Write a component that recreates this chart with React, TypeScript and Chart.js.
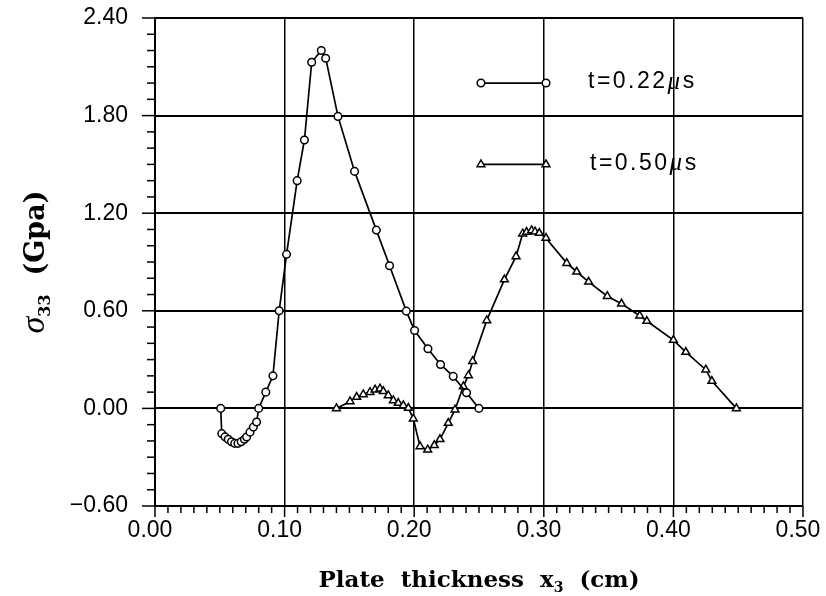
import React, { useEffect, useRef } from "react";
import { Chart, registerables } from "chart.js";

Chart.register(...registerables);

// Stress profile through the plate thickness at t = 0.22 µs (circles)
const thicknessA = [
  0.0507, 0.0515, 0.054, 0.0565, 0.059, 0.0615, 0.064, 0.0665, 0.069, 0.0707,
  0.0733, 0.0759, 0.0784, 0.08, 0.0855, 0.091, 0.0958, 0.1015, 0.1097, 0.1153,
  0.1209, 0.1283, 0.1317, 0.1412, 0.154, 0.1708, 0.181, 0.1939, 0.2003, 0.2106,
  0.2203, 0.2301, 0.2404, 0.2499,
];
const stressA = [
  0.0, -0.155, -0.175, -0.19, -0.205, -0.215, -0.215, -0.205, -0.19, -0.176,
  -0.146, -0.115, -0.084, 0.0, 0.1, 0.2, 0.6, 0.947, 1.4, 1.65,
  2.128, 2.2, 2.153, 1.795, 1.457, 1.096, 0.877, 0.598, 0.479, 0.367,
  0.27, 0.197, 0.096, 0.0,
];

// Stress profile through the plate thickness at t = 0.50 µs (triangles)
const thicknessB = [
  0.14, 0.1505, 0.1556, 0.1607, 0.1659, 0.1698, 0.1736, 0.1762, 0.18, 0.1839,
  0.1877, 0.1916, 0.1955, 0.1993, 0.2045, 0.2104, 0.2155, 0.2199, 0.2263, 0.2315,
  0.2379, 0.2418, 0.2451, 0.256, 0.2696, 0.2786, 0.2837, 0.2867, 0.2906, 0.2932,
  0.2965, 0.3017, 0.3177, 0.3254, 0.3346, 0.349, 0.36, 0.374, 0.3795, 0.4,
  0.4096, 0.425, 0.4297, 0.4486,
];
const stressB = [
  0.0, 0.043, 0.07, 0.086, 0.1, 0.115, 0.121, 0.105, 0.08, 0.049,
  0.033, 0.018, 0.002, -0.063, -0.234, -0.254, -0.227, -0.19, -0.09, -0.008,
  0.135, 0.203, 0.29, 0.541, 0.792, 0.934, 1.074, 1.084, 1.094, 1.086,
  1.078, 1.047, 0.893, 0.84, 0.778, 0.69, 0.643, 0.57, 0.537, 0.42,
  0.346, 0.238, 0.168, 0.0,
];

const xTickValues = [0, 0.1, 0.2, 0.3, 0.4, 0.5];
const yTickValues = [-0.6, 0, 0.6, 1.2, 1.8, 2.4];

const seriesTimes = ["t=0.22", "t=0.50"];
const timeUnit = "\u03bcs";

const formatTick = (v: number) =>
  v < 0 ? "\u2212" + Math.abs(v).toFixed(2) : v.toFixed(2);

const SANS = "'Liberation Sans', Arial, sans-serif";
const SERIF = "'DejaVu Serif', serif";

function drawMarker(ctx: CanvasRenderingContext2D, style: string, x: number, y: number) {
  ctx.beginPath();
  if (style === "circle") {
    ctx.arc(x, y, 3.8, 0, Math.PI * 2);
  } else {
    const r = 4.5;
    ctx.moveTo(x, y - r);
    ctx.lineTo(x + r * 0.866, y + r * 0.5);
    ctx.lineTo(x - r * 0.866, y + r * 0.5);
    ctx.closePath();
  }
  ctx.fillStyle = "#fff";
  ctx.fill();
  ctx.lineWidth = 1.5;
  ctx.strokeStyle = "#000";
  ctx.stroke();
}

// Draws minor/major tick marks, the in-plot key and the axis titles.
const decorations = {
  id: "decorations",
  afterDraw(chart: any) {
    const ctx: CanvasRenderingContext2D = chart.ctx;
    const xs = chart.scales.x;
    const ys = chart.scales.y;
    const area = chart.chartArea;
    ctx.save();
    ctx.strokeStyle = "#000";
    ctx.lineWidth = 1.5;

    // x-axis ticks every 0.01, long ones every 0.1
    for (let i = 0; i <= 50; i++) {
      const px = xs.getPixelForValue(i / 100);
      const len = i % 10 === 0 ? 11 : 7;
      ctx.beginPath();
      ctx.moveTo(px, area.bottom);
      ctx.lineTo(px, area.bottom + len);
      ctx.stroke();
    }
    // y-axis ticks every 0.1, long ones every 0.6
    for (let i = -6; i <= 24; i++) {
      const py = ys.getPixelForValue(i / 10);
      const len = i % 6 === 0 ? 13 : 8;
      ctx.beginPath();
      ctx.moveTo(area.left, py);
      ctx.lineTo(area.left - len, py);
      ctx.stroke();
    }

    // key inside the plot
    const styles = ["circle", "triangle"];
    const keyY = [2.0, 1.5];
    seriesTimes.forEach((label, k) => {
      const x0 = xs.getPixelForValue(0.2515);
      const x1 = xs.getPixelForValue(0.3017);
      const y = ys.getPixelForValue(keyY[k]);
      ctx.beginPath();
      ctx.lineWidth = 1.7;
      ctx.strokeStyle = "#000";
      ctx.moveTo(x0, y);
      ctx.lineTo(x1, y);
      ctx.stroke();
      drawMarker(ctx, styles[k], x0, y);
      drawMarker(ctx, styles[k], x1, y);

      ctx.fillStyle = "#000";
      ctx.textBaseline = "middle";
      ctx.textAlign = "left";
      (ctx as any).letterSpacing = "2.5px";
      ctx.font = `23px ${SANS}`;
      let tx = x1 + 42 + k * 2;
      ctx.fillText(label, tx, y - 1);
      tx += ctx.measureText(label).width;
      ctx.font = `italic 25px 'Liberation Serif', serif`;
      ctx.fillText(timeUnit[0], tx, y - 1);
      tx += ctx.measureText(timeUnit[0]).width;
      ctx.font = `23px ${SANS}`;
      ctx.fillText(timeUnit.slice(1), tx, y - 1);
      (ctx as any).letterSpacing = "0px";
    });

    const drawParts = (parts: any[], cx: number, cy: number) => {
      let total = 0;
      parts.forEach((p) => {
        ctx.font = p.f;
        total += ctx.measureText(p.t).width;
      });
      let px = cx - total / 2;
      ctx.textAlign = "left";
      ctx.textBaseline = "alphabetic";
      ctx.fillStyle = "#000";
      parts.forEach((p) => {
        ctx.font = p.f;
        ctx.fillText(p.t, px, cy + p.dy);
        px += ctx.measureText(p.t).width;
      });
    };

    // x-axis title with subscript
    const xParts = [
      { t: "Plate  thickness  x", f: `bold 23px ${SERIF}`, dy: 0 },
      { t: "3", f: `bold 14px ${SERIF}`, dy: 5 },
      { t: "  (cm)", f: `bold 23px ${SERIF}`, dy: 0 },
    ];
    drawParts(xParts, (area.left + area.right) / 2, 587);

    // y-axis title, rotated, with subscript
    const yParts = [
      { t: "\u03c3", f: `italic 34px 'Liberation Serif', serif`, dy: 0 },
      { t: "33", f: `bold 16px ${SERIF}`, dy: 6 },
      { t: "  (Gpa)", f: `bold 27px ${SERIF}`, dy: 0 },
    ];
    ctx.save();
    ctx.translate(44, (area.top + area.bottom) / 2);
    ctx.rotate(-Math.PI / 2);
    drawParts(yParts, 0, 0);
    ctx.restore();

    ctx.restore();
  },
};

export default function App() {
  const canvasRef = useRef<HTMLCanvasElement | null>(null);

  useEffect(() => {
    const canvas = canvasRef.current;
    if (!canvas) return;
    const chart = new Chart(canvas, {
      type: "scatter",
      data: {
        datasets: [
          {
            label: seriesTimes[0] + timeUnit,
            data: thicknessA.map((x, i) => ({ x, y: stressA[i] })),
            showLine: true,
            borderColor: "#000",
            borderWidth: 1.7,
            pointStyle: "circle",
            pointRadius: 3.8,
            pointBackgroundColor: "#fff",
            pointBorderColor: "#000",
            pointBorderWidth: 1.5,
          },
          {
            label: seriesTimes[1] + timeUnit,
            data: thicknessB.map((x, i) => ({ x, y: stressB[i] })),
            showLine: true,
            borderColor: "#000",
            borderWidth: 1.7,
            pointStyle: "triangle",
            pointRadius: 4.5,
            pointBackgroundColor: "#fff",
            pointBorderColor: "#000",
            pointBorderWidth: 1.5,
          },
        ],
      },
      options: {
        animation: false,
        responsive: false,
        devicePixelRatio: 1,
        events: [],
        layout: { padding: { top: 18, right: 23, left: 0, bottom: 0 } },
        plugins: {
          legend: { display: false },
          tooltip: { enabled: false },
        },
        scales: {
          x: {
            type: "linear",
            min: 0,
            max: 0.5,
            afterBuildTicks: (s: any) => {
              s.ticks = xTickValues.map((value) => ({ value }));
            },
            afterFit: (s: any) => {
              s.height = 90;
              s.paddingLeft = 0;
              s.paddingRight = 0;
            },
            ticks: {
              callback: (v: any) => formatTick(Number(v)),
              color: "#000",
              font: { family: SANS, size: 23 },
              padding: 11,
              labelOffset: -5,
              maxRotation: 0,
            },
            grid: { color: "#000", lineWidth: 1.5, drawTicks: false },
            border: { display: true, color: "#000", width: 2 },
          },
          y: {
            type: "linear",
            min: -0.6,
            max: 2.4,
            afterBuildTicks: (s: any) => {
              s.ticks = yTickValues.map((value) => ({ value }));
            },
            afterFit: (s: any) => {
              s.width = 155;
              s.paddingTop = 0;
              s.paddingBottom = 0;
            },
            ticks: {
              callback: (v: any) => formatTick(Number(v)),
              color: "#000",
              font: { family: SANS, size: 23 },
              padding: 27,
            },
            grid: { color: "#000", lineWidth: 2, drawTicks: false },
            border: { display: true, color: "#000", width: 2 },
          },
        },
      },
      plugins: [decorations],
    });
    return () => chart.destroy();
  }, []);

  return (
    <div
      style={{
        position: "fixed",
        left: 0,
        top: 0,
        width: 826,
        height: 596,
        background: "#fff",
      }}
    >
      <canvas ref={canvasRef} width={826} height={596} />
    </div>
  );
}
